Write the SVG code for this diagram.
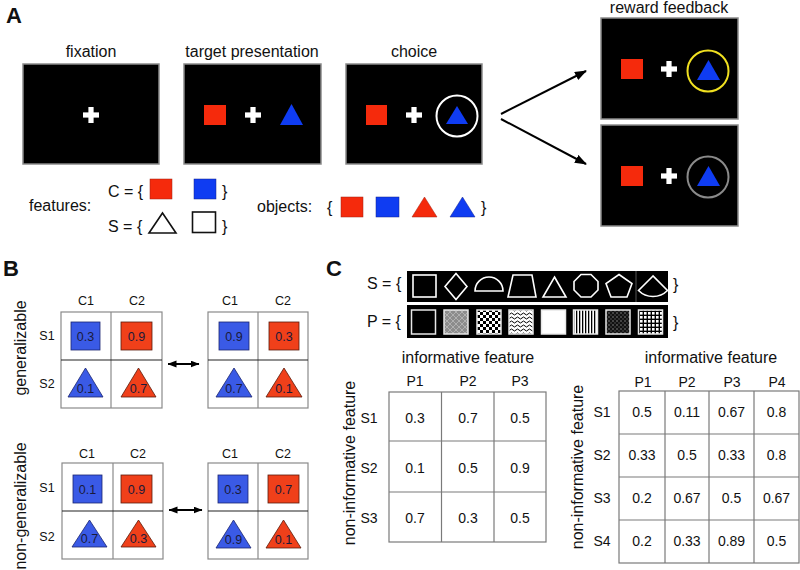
<svg xmlns="http://www.w3.org/2000/svg" width="800" height="570" viewBox="0 0 800 570">
<style>
text{font-family:"Liberation Sans",Arial,sans-serif;fill:#111}
.t16{font-size:16px}
.t14{font-size:14px}
.t12{font-size:12.5px}
.v{font-size:12.5px;fill:#1a1a3a}
.lab{font-size:22px;font-weight:bold}
.mid{text-anchor:middle}
.scr{fill:#000;stroke:#8a8a8a;stroke-width:1.5}
.red{fill:#f52a0c}
.blue{fill:#0f3cf2}
.bred{fill:#f0401a;stroke:#5a1a0a;stroke-width:0.8}
.bblue{fill:#3a5ae6;stroke:#1a2470;stroke-width:0.8}
.grid{fill:#fff;stroke:#8a8a8a;stroke-width:1.2}
.gv{stroke:#8a8a8a;stroke-width:1.2}
.gh{stroke:#222;stroke-width:1.2}
.tab{fill:#fff;stroke:#7a7a7a;stroke-width:1.2}
.tl{stroke:#7a7a7a;stroke-width:1.2}
.wsh{fill:none;stroke:#fff;stroke-width:1.6}
.pat{stroke:#e8e8e8;stroke-width:1.5}
.conn{stroke:#000;stroke-width:2;fill:none}
</style>
<defs>
<g id="plus" fill="#fff"><rect x="-8" y="-2.6" width="16" height="5.2"/><rect x="-2.6" y="-8" width="5.2" height="16"/></g>
<marker id="ah" markerUnits="userSpaceOnUse" markerWidth="12" markerHeight="10" refX="11" refY="4.5" orient="auto"><path d="M0,0 L12,4.5 L0,9 Z" fill="#000"/></marker>
<marker id="dh" markerUnits="userSpaceOnUse" markerWidth="9" markerHeight="8" refX="8.5" refY="3.5" orient="auto-start-reverse"><path d="M0,0 L9,3.5 L0,7 Z" fill="#000"/></marker>
<pattern id="pCheck" width="6" height="6" patternUnits="userSpaceOnUse"><rect width="6" height="6" fill="#fff"/><rect width="3" height="3" fill="#000"/><rect x="3" y="3" width="3" height="3" fill="#000"/></pattern>
<pattern id="pHatch" width="6" height="6" patternUnits="userSpaceOnUse"><rect width="6" height="6" fill="#8c8c8c"/><path d="M0,0 L6,6 M6,0 L0,6" stroke="#c0c0c0" stroke-width="0.7"/></pattern>
<pattern id="pWave" width="6" height="4" patternUnits="userSpaceOnUse"><rect width="6" height="4" fill="#fff"/><path d="M0,2 Q1.5,0 3,2 T6,2" stroke="#000" stroke-width="1" fill="none"/></pattern>
<pattern id="pVert" width="3" height="3" patternUnits="userSpaceOnUse"><rect width="3" height="3" fill="#fff"/><rect width="1.3" height="3" fill="#000"/></pattern>
<pattern id="pDots" width="4" height="4" patternUnits="userSpaceOnUse"><rect width="4" height="4" fill="#111"/><rect x="0.5" y="0.5" width="1" height="1" fill="#ddd"/><rect x="2.5" y="2.5" width="1" height="1" fill="#888"/></pattern>
<pattern id="pGrid" width="4" height="4" patternUnits="userSpaceOnUse"><rect width="4" height="4" fill="#000"/><rect width="2.6" height="2.6" fill="#fff"/></pattern>
</defs>

<!-- Panel labels -->
<text class="lab" x="6" y="23">A</text>
<text class="lab" x="3" y="276">B</text>
<text class="lab" x="326" y="276">C</text>

<!-- Panel A screens -->
<g id="fixation">
<text class="t16 mid" x="91" y="57">fixation</text>
<rect class="scr" x="23" y="64" width="136" height="100"/>
<use href="#plus" x="91" y="115"/>
</g>
<g id="target">
<text class="t16 mid" x="252" y="57">target presentation</text>
<rect class="scr" x="184" y="64" width="137" height="100"/>
<rect class="red" x="204" y="105" width="22" height="20"/>
<use href="#plus" x="253" y="115"/>
<polygon class="blue" points="291.5,104 303,125 280,125"/>
</g>
<g id="choice">
<text class="t16 mid" x="414" y="57">choice</text>
<rect class="scr" x="346" y="64" width="136" height="100"/>
<rect class="red" x="366" y="105" width="21" height="20"/>
<use href="#plus" x="414" y="115"/>
<circle cx="457" cy="116" r="20.5" fill="none" stroke="#fff" stroke-width="2"/>
<polygon class="blue" points="457,106 468,124 446,124"/>
</g>
<g id="reward1">
<text class="t16 mid" x="669" y="13">reward feedback</text>
<rect class="scr" x="601" y="18" width="137" height="101"/>
<rect class="red" x="621" y="59" width="22" height="20"/>
<use href="#plus" x="669" y="69"/>
<circle cx="708" cy="71" r="20.5" fill="none" stroke="#f0e020" stroke-width="2"/>
<polygon class="blue" points="708.5,60 720,80 697,80"/>
</g>
<g id="reward2">
<rect class="scr" x="601" y="125" width="137" height="101"/>
<rect class="red" x="621" y="166" width="22" height="20"/>
<use href="#plus" x="669" y="176"/>
<circle cx="708" cy="177" r="20.5" fill="none" stroke="#8a8a8a" stroke-width="2"/>
<polygon class="blue" points="708.5,166 720,186 697,186"/>
</g>

<g id="connectors">
<line class="conn" x1="501" y1="114" x2="586" y2="71" marker-end="url(#ah)"/>
<line class="conn" x1="501" y1="119" x2="586" y2="164" marker-end="url(#ah)"/>
<line stroke="#000" stroke-width="2" x1="168" y1="364" x2="199" y2="364" marker-start="url(#dh)" marker-end="url(#dh)"/>
<line stroke="#000" stroke-width="2" x1="169" y1="510" x2="202" y2="510" marker-start="url(#dh)" marker-end="url(#dh)"/>
</g>

<!-- features / objects -->
<g id="features">
<text class="t16" x="29" y="211">features:</text>
<text class="t16" x="108" y="197">C = {</text>
<rect class="red" x="150" y="179" width="22" height="20" stroke="#a02010" stroke-width="0.5"/>
<rect class="blue" x="194" y="179" width="22" height="20" stroke="#10208a" stroke-width="0.5"/>
<text class="t16" x="222" y="197">}</text>
<text class="t16" x="108" y="232">S = {</text>
<polygon points="162.5,213 176,233 149,233" fill="none" stroke="#111" stroke-width="1.6"/>
<rect x="192.5" y="212" width="23" height="20.5" fill="none" stroke="#111" stroke-width="1.6"/>
<text class="t16" x="222" y="232">}</text>
</g>
<g id="objects">
<text class="t16" x="257" y="212">objects:</text>
<text class="t16" x="327" y="213">{</text>
<rect class="red" x="341" y="197" width="22" height="20" stroke="#a02010" stroke-width="0.5"/>
<rect class="blue" x="376" y="197" width="23" height="20" stroke="#10208a" stroke-width="0.5"/>
<polygon class="red" points="424.5,197 437,217 412,217" stroke="#a02010" stroke-width="0.5"/>
<polygon class="blue" points="462.5,197 475,217 450,217" stroke="#10208a" stroke-width="0.5"/>
<text class="t16" x="481" y="213">}</text>
</g>

<!-- Panel B -->
<text class="t16 mid" transform="translate(26,348) rotate(-90)">generalizable</text>
<text class="t16 mid" transform="translate(26,506) rotate(-90)">non-generalizable</text>

<g id="gridTL">
<text class="t12 mid" x="86" y="305">C1</text>
<text class="t12 mid" x="137" y="305">C2</text>
<text class="t12 mid" x="47" y="340">S1</text>
<text class="t12 mid" x="47" y="388">S2</text>
<rect class="grid" x="61" y="312" width="101" height="96"/>
<line class="gv" x1="111" y1="312" x2="111" y2="408"/>
<line class="gh" x1="61" y1="360" x2="162" y2="360"/>
<rect class="bblue" x="71" y="322" width="29" height="28"/>
<text class="v mid" x="85.5" y="341">0.3</text>
<rect class="bred" x="121" y="322" width="31" height="28"/>
<text class="v mid" x="136.5" y="341">0.9</text>
<polygon class="bblue" points="85.5,368 103,397 68,397"/>
<text class="v mid" x="85.5" y="393">0.1</text>
<polygon class="bred" points="138.5,368 156,397 121,397"/>
<text class="v mid" x="138.5" y="393">0.7</text>
</g>
<g id="gridTR">
<text class="t12 mid" x="230" y="305">C1</text>
<text class="t12 mid" x="283" y="305">C2</text>
<rect class="grid" x="208" y="312" width="100" height="96"/>
<line class="gv" x1="258" y1="312" x2="258" y2="408"/>
<line class="gh" x1="208" y1="360" x2="308" y2="360"/>
<rect class="bblue" x="219" y="322" width="30" height="28"/>
<text class="v mid" x="234" y="341">0.9</text>
<rect class="bred" x="269" y="322" width="30" height="28"/>
<text class="v mid" x="284" y="341">0.3</text>
<polygon class="bblue" points="234,368 252,397 216,397"/>
<text class="v mid" x="234" y="393">0.7</text>
<polygon class="bred" points="284,368 302,397 266,397"/>
<text class="v mid" x="284" y="393">0.1</text>
</g>
<g id="gridBL">
<text class="t12 mid" x="87" y="458">C1</text>
<text class="t12 mid" x="138" y="458">C2</text>
<text class="t12 mid" x="47" y="492">S1</text>
<text class="t12 mid" x="47" y="541">S2</text>
<rect class="grid" x="62" y="463" width="101" height="96"/>
<line class="gv" x1="113" y1="463" x2="113" y2="559"/>
<line class="gh" x1="62" y1="511" x2="163" y2="511"/>
<rect class="bblue" x="73" y="475" width="29" height="28"/>
<text class="v mid" x="87.5" y="494">0.1</text>
<rect class="bred" x="121" y="475" width="31" height="28"/>
<text class="v mid" x="136.5" y="494">0.9</text>
<polygon class="bblue" points="89.5,520 107,547 72,547"/>
<text class="v mid" x="89.5" y="543">0.7</text>
<polygon class="bred" points="138.5,520 156,547 121,547"/>
<text class="v mid" x="138.5" y="543">0.3</text>
</g>
<g id="gridBR">
<text class="t12 mid" x="230" y="458">C1</text>
<text class="t12 mid" x="283" y="458">C2</text>
<rect class="grid" x="208" y="463" width="100" height="96"/>
<line class="gv" x1="258" y1="463" x2="258" y2="559"/>
<line class="gh" x1="208" y1="511" x2="308" y2="511"/>
<rect class="bblue" x="218" y="475" width="30" height="28"/>
<text class="v mid" x="233" y="494">0.3</text>
<rect class="bred" x="268" y="475" width="31" height="28"/>
<text class="v mid" x="283.5" y="494">0.7</text>
<polygon class="bblue" points="233.5,520 251,548 216,548"/>
<text class="v mid" x="233.5" y="544">0.9</text>
<polygon class="bred" points="283.5,520 301,548 266,548"/>
<text class="v mid" x="283.5" y="544">0.1</text>
</g>

<!-- Panel C sets -->
<g id="setS">
<text class="t16" x="367" y="289">S = {</text>
<rect x="407" y="271" width="261" height="31" fill="#000"/>
<rect class="wsh" x="413" y="275" width="23" height="22"/>
<polygon class="wsh" points="456,273.5 467,286.5 456,299.5 445,286.5"/>
<path class="wsh" d="M475,291 A14,14 0 0 1 503,291 Z"/>
<polygon class="wsh" points="513,275 532,275 536,297 508,297"/>
<polygon class="wsh" points="554.5,277 566,297 543,297"/>
<polygon class="wsh" points="581,274.5 591,274.5 598,281.5 598,290 591,297 581,297 574,290 574,281.5"/>
<polygon class="wsh" points="619,274.5 632,283.5 627,297 611,297 606,283.5"/>
<line x1="636" y1="271" x2="636" y2="302" stroke="#555" stroke-width="1"/>
<path class="wsh" d="M653,276 L638.5,290.5 A20.5,20.5 0 0 0 667.5,290.5 Z"/>
<text class="t16" x="673" y="290">}</text>
</g>
<g id="setP">
<text class="t16" x="367" y="327">P = {</text>
<rect x="407" y="305" width="261" height="33" fill="#000"/>
<rect class="pat" x="411.5" y="310" width="24" height="24" fill="#000"/>
<rect class="pat" x="444" y="310" width="24" height="24" fill="url(#pHatch)"/>
<rect class="pat" x="477" y="310" width="24" height="24" fill="url(#pCheck)"/>
<rect class="pat" x="509" y="310" width="24" height="24" fill="url(#pWave)"/>
<rect class="pat" x="541.5" y="310" width="24" height="24" fill="#fff"/>
<rect class="pat" x="573.5" y="310" width="24" height="24" fill="url(#pVert)"/>
<rect class="pat" x="606" y="310" width="24" height="24" fill="url(#pDots)"/>
<rect class="pat" x="638.5" y="310" width="24" height="24" fill="url(#pGrid)"/>
<text class="t16" x="673" y="328">}</text>
</g>

<!-- Table 1 -->
<g id="table1">
<text class="t16 mid" x="468" y="363">informative feature</text>
<text class="t16 mid" transform="translate(355,463) rotate(-90)">non-informative feature</text>
<text class="t14 mid" x="415" y="386">P1</text>
<text class="t14 mid" x="468" y="386">P2</text>
<text class="t14 mid" x="520" y="386">P3</text>
<text class="t14 mid" x="369" y="423">S1</text>
<text class="t14 mid" x="369" y="473">S2</text>
<text class="t14 mid" x="369" y="523">S3</text>
<rect class="tab" x="389" y="392" width="157" height="150"/>
<line class="tl" x1="441.5" y1="392" x2="441.5" y2="542"/>
<line class="tl" x1="494" y1="392" x2="494" y2="542"/>
<line class="tl" x1="389" y1="441" x2="546" y2="441"/>
<line class="tl" x1="389" y1="492" x2="546" y2="492"/>
<text class="t14 mid" x="415" y="423">0.3</text>
<text class="t14 mid" x="468" y="423">0.7</text>
<text class="t14 mid" x="520" y="423">0.5</text>
<text class="t14 mid" x="415" y="473">0.1</text>
<text class="t14 mid" x="468" y="473">0.5</text>
<text class="t14 mid" x="520" y="473">0.9</text>
<text class="t14 mid" x="415" y="523">0.7</text>
<text class="t14 mid" x="468" y="523">0.3</text>
<text class="t14 mid" x="520" y="523">0.5</text>
</g>

<!-- Table 2 -->
<g id="table2">
<text class="t16 mid" x="711" y="363">informative feature</text>
<text class="t16 mid" transform="translate(583,467) rotate(-90)">non-informative feature</text>
<text class="t14 mid" x="643" y="387">P1</text>
<text class="t14 mid" x="687" y="387">P2</text>
<text class="t14 mid" x="732" y="387">P3</text>
<text class="t14 mid" x="777" y="387">P4</text>
<text class="t14 mid" x="602" y="417">S1</text>
<text class="t14 mid" x="602" y="460">S2</text>
<text class="t14 mid" x="602" y="503">S3</text>
<text class="t14 mid" x="602" y="546">S4</text>
<rect class="tab" x="619" y="391" width="180" height="172"/>
<line class="tl" x1="665" y1="391" x2="665" y2="563"/>
<line class="tl" x1="709" y1="391" x2="709" y2="563"/>
<line class="tl" x1="754" y1="391" x2="754" y2="563"/>
<line class="tl" x1="619" y1="434" x2="799" y2="434"/>
<line class="tl" x1="619" y1="477" x2="799" y2="477"/>
<line class="tl" x1="619" y1="520" x2="799" y2="520"/>
<text class="t14 mid" x="642" y="417">0.5</text>
<text class="t14 mid" x="687" y="417">0.11</text>
<text class="t14 mid" x="731.5" y="417">0.67</text>
<text class="t14 mid" x="776.5" y="417">0.8</text>
<text class="t14 mid" x="642" y="460">0.33</text>
<text class="t14 mid" x="687" y="460">0.5</text>
<text class="t14 mid" x="731.5" y="460">0.33</text>
<text class="t14 mid" x="776.5" y="460">0.8</text>
<text class="t14 mid" x="642" y="503">0.2</text>
<text class="t14 mid" x="687" y="503">0.67</text>
<text class="t14 mid" x="731.5" y="503">0.5</text>
<text class="t14 mid" x="776.5" y="503">0.67</text>
<text class="t14 mid" x="642" y="546">0.2</text>
<text class="t14 mid" x="687" y="546">0.33</text>
<text class="t14 mid" x="731.5" y="546">0.89</text>
<text class="t14 mid" x="776.5" y="546">0.5</text>
</g>
</svg>
